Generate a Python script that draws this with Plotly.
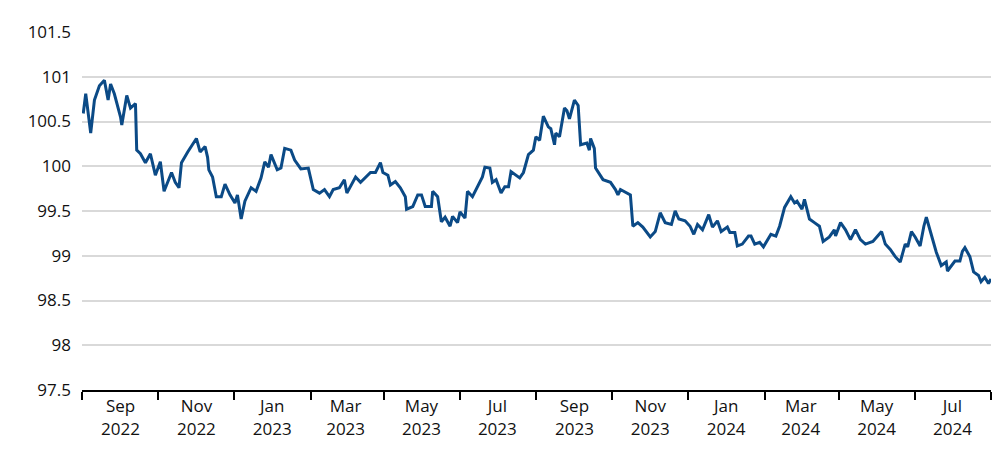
import datetime as dt
import plotly.graph_objects as go

start = dt.date(2022, 8, 1)
day_offsets = [1,3,7,10,14,18,21,23,26,31,32,36,39,43,44,47,51,55,59,63,66,72,75,78,80,85,92,95,99,101,102,105,108,112,115,119,123,125,128,131,136,140,144,147,150,152,157,160,163,168,171,176,182,186,191,195,199,202,207,211,213,220,224,232,236,240,242,246,248,252,256,260,261,266,270,273,276,281,282,286,289,292,296,298,302,304,308,310,314,318,322,324,328,330,333,337,340,
               343,345,352,355,359,363,365,368,371,375,377,380,381,384,388,390,392,396,399,401,406,408,409,412,413,419,425,429,431,433,441,443,447,451,457,461,465,469,474,477,480,485,489,492,495,499,504,507,511,514,519,521,525,527,531,536,538,541,545,548,554,558,561,565,570,573,575,579,581,585,589,593,596,601,605,606,610,614,618,622,626,630,636,640,643,646,650,654,658,662,664,667,670,674,677,679,683,687,691,695,696,702,706,708,710,714,717,721,723,726,729,731]
values = [100.59,100.81,100.37,100.74,100.90,100.96,100.74,100.92,100.81,100.55,100.46,100.79,100.65,100.70,100.18,100.14,100.04,100.14,99.90,100.05,99.72,99.93,99.82,99.76,100.04,100.16,100.31,100.16,100.22,100.10,99.96,99.88,99.66,99.66,99.80,99.68,99.59,99.68,99.41,99.61,99.76,99.72,99.87,100.05,99.99,100.13,99.96,99.98,100.20,100.18,100.07,99.97,99.98,99.74,99.70,99.74,99.66,99.74,99.76,99.85,99.70,99.88,99.82,99.93,99.93,100.04,99.93,99.90,99.79,99.83,99.76,99.66,99.52,99.55,99.68,99.68,99.55,99.55,99.72,99.66,99.38,99.43,99.33,99.44,99.37,99.49,99.42,99.72,99.66,99.77,99.88,99.99,99.98,99.82,99.85,99.70,99.77,
          99.77,99.94,99.87,99.93,100.13,100.18,100.33,100.29,100.56,100.44,100.42,100.24,100.37,100.33,100.65,100.62,100.53,100.74,100.68,100.24,100.26,100.18,100.31,100.20,99.98,99.85,99.82,99.74,99.68,99.74,99.68,99.33,99.37,99.32,99.21,99.27,99.48,99.37,99.35,99.50,99.41,99.39,99.33,99.24,99.35,99.29,99.46,99.32,99.39,99.27,99.32,99.26,99.26,99.11,99.13,99.22,99.22,99.13,99.15,99.10,99.24,99.22,99.33,99.54,99.66,99.59,99.61,99.52,99.63,99.41,99.37,99.33,99.16,99.21,99.29,99.22,99.37,99.29,99.18,99.29,99.18,99.13,99.16,99.22,99.27,99.13,99.07,98.99,98.93,99.13,99.10,99.27,99.21,99.11,99.33,99.43,99.24,99.04,98.89,98.93,98.83,98.94,98.94,99.05,99.09,98.99,98.82,98.78,98.71,98.76,98.69,98.74]
dates = [start + dt.timedelta(days=d) for d in day_offsets]
x_label_dates = ["2022-09-01", "2022-11-01", "2023-01-01", "2023-03-01", "2023-05-01", "2023-07-01",
                 "2023-09-01", "2023-11-01", "2024-01-01", "2024-03-01", "2024-05-01", "2024-07-01"]
x_labels = ["Sep<br>2022", "Nov<br>2022", "Jan<br>2023", "Mar<br>2023", "May<br>2023", "Jul<br>2023",
            "Sep<br>2023", "Nov<br>2023", "Jan<br>2024", "Mar<br>2024", "May<br>2024", "Jul<br>2024"]
y_ticks = [97.5, 98, 98.5, 99, 99.5, 100, 100.5, 101, 101.5]
y_labels = ["97.5", "98", "98.5", "99", "99.5", "100", "100.5", "101", "101.5"]

fig = go.Figure(go.Scatter(x=dates, y=values, mode="lines",
                           line=dict(color="#0b4a86", width=3), hoverinfo="skip"))
fig.update_layout(
    width=1000, height=449, margin=dict(l=74, r=17, t=21, b=67),
    paper_bgcolor="white", plot_bgcolor="white", showlegend=False,
    font=dict(family="Open Sans", size=17, color="#111"),
)
fig.update_xaxes(range=["2022-08-01", "2024-08-01"], tickvals=x_label_dates, ticktext=x_labels,
                 ticks="", showline=True, linecolor="black", linewidth=2,
                 showgrid=False, zeroline=False,
                 minor=dict(tick0="2022-08-01", dtick="M2", ticks="outside", ticklen=8,
                            tickwidth=2, tickcolor="black", showgrid=False))
fig.update_yaxes(range=[97.5, 101.5], tickvals=y_ticks, ticktext=y_labels,
                 showgrid=True, gridcolor="#d9d9d9", gridwidth=1.5, zeroline=False,
                 ticks="", ticklabelstandoff=10)
fig.write_html("out.html")
